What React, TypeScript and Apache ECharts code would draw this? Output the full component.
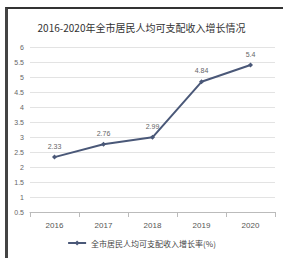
import React, { useEffect, useRef } from "react";
import * as echarts from "echarts";

const categories = ["2016", "2017", "2018", "2019", "2020"];
const seriesName = "全市居民人均可支配收入增长率(%)";
const values = [2.33, 2.76, 2.99, 4.84, 5.4];
const titleText = "2016-2020年全市居民人均可支配收入增长情况";

export default function App() {
  const ref = useRef<HTMLDivElement>(null);
  useEffect(() => {
    document.body.style.margin = "0";
    const chart = echarts.init(ref.current!, undefined, { renderer: "svg" });
    chart.setOption({
      animation: false,
      backgroundColor: "#ffffff",
      title: {
        text: titleText,
        left: "center",
        top: 17,
        textStyle: { fontSize: 10, fontWeight: "normal", color: "#333", fontFamily: "Noto Sans CJK SC" },
      },
      legend: {
        bottom: 6,
        left: "center",
        itemWidth: 18,
        itemHeight: 6,
        textStyle: { fontSize: 8, color: "#444", fontFamily: "Noto Sans CJK SC" },
        data: [seriesName],
      },
      grid: { left: 30, right: 8, top: 47, bottom: 46 },
      xAxis: {
        type: "category",
        data: categories,
        axisLine: { lineStyle: { color: "#bbb" } },
        axisTick: { show: true, alignWithLabel: false, lineStyle: { color: "#bbb" } },
        axisLabel: { fontSize: 8, color: "#555", margin: 9 },
      },
      yAxis: {
        type: "value",
        min: 0.5,
        max: 6,
        interval: 0.5,
        axisLine: { show: false },
        axisTick: { show: false },
        axisLabel: { fontSize: 7, color: "#666", margin: 6 },
        splitLine: { lineStyle: { color: "#e3e3e3" } },
      },
      series: [
        {
          name: seriesName,
          type: "line",
          data: values,
          symbol: "diamond",
          symbolSize: 5,
          lineStyle: { color: "#4a5878", width: 2 },
          itemStyle: { color: "#4a5878" },
          label: { show: true, position: "top", fontSize: 7, color: "#666" },
        },
      ],
    });
    return () => chart.dispose();
  }, []);
  return (
    <div style={{ position: "relative", width: 283, height: 258 }}>
      <div ref={ref} style={{ position: "absolute", left: 0, top: 0, width: 283, height: 258 }} />
      <div style={{ position: "absolute", left: 5, top: 7, width: 278, height: 251, borderTop: "2px solid #333", borderLeft: "3px solid #444", boxSizing: "border-box", pointerEvents: "none" }} />
    </div>
  );
}
